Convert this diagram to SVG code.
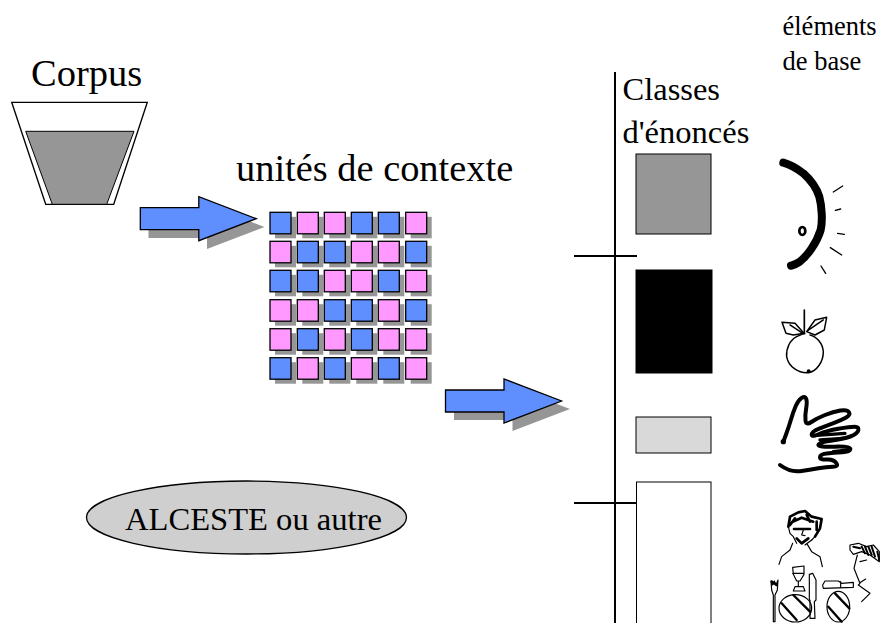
<svg xmlns="http://www.w3.org/2000/svg" width="880" height="623" viewBox="0 0 880 623">
<style>
text{font-family:"Liberation Serif","Times New Roman",serif;fill:#000}
.b{fill:#5f8fff;stroke:#000;stroke-width:1.3}
.p{fill:#ff99ff;stroke:#000;stroke-width:1.3}
.s{fill:#969696}
.l{fill:none;stroke:#000;stroke-linecap:round;stroke-linejoin:round}
</style>
<defs>
<rect id="sh" class="s" width="21" height="21.5"/>
<polygon id="arrow" points="0,11 58.500,11 58.500,0 116,22 58.500,44 58.500,33 0,33"/>
</defs>
<rect width="880" height="623" fill="#fff"/>
<g id="corpus">
<text x="31" y="86" font-size="38.500">Corpus</text>
<polygon points="11.700,102.300 147.300,102.300 113.700,204.300 45.700,204.300" fill="#fff" stroke="#000" stroke-width="1.300"/>
<polygon points="25.700,131.300 134,131.300 106.700,204.300 52.300,204.300" fill="#969696" stroke="#000" stroke-width="1"/>
</g>
<g id="connectors">
<use href="#arrow" x="148.500" y="205" class="s"/>
<use href="#arrow" x="140.300" y="196.700" class="b"/>
<use href="#arrow" x="454" y="387" class="s"/>
<use href="#arrow" x="445.500" y="379" class="b"/>
<line x1="615" y1="72" x2="615" y2="623" stroke="#000" stroke-width="2"/>
<line x1="574" y1="256" x2="637" y2="256" stroke="#000" stroke-width="2"/>
<line x1="574" y1="503" x2="637" y2="503" stroke="#000" stroke-width="2"/>
</g>
<g id="unites">
<text x="236" y="181" font-size="38.400">unités de contexte</text>
<g transform="translate(5 4.500)">
<use href="#sh" x="270" y="212.300"/><use href="#sh" x="297.300" y="212.300"/><use href="#sh" x="324.300" y="212.300"/><use href="#sh" x="351.300" y="212.300"/><use href="#sh" x="378.300" y="212.300"/><use href="#sh" x="405.700" y="212.300"/>
<use href="#sh" x="270" y="241.300"/><use href="#sh" x="297.300" y="241.300"/><use href="#sh" x="324.300" y="241.300"/><use href="#sh" x="351.300" y="241.300"/><use href="#sh" x="378.300" y="241.300"/><use href="#sh" x="405.700" y="241.300"/>
<use href="#sh" x="270" y="270.300"/><use href="#sh" x="297.300" y="270.300"/><use href="#sh" x="324.300" y="270.300"/><use href="#sh" x="351.300" y="270.300"/><use href="#sh" x="378.300" y="270.300"/><use href="#sh" x="405.700" y="270.300"/>
<use href="#sh" x="270" y="299.700"/><use href="#sh" x="297.300" y="299.700"/><use href="#sh" x="324.300" y="299.700"/><use href="#sh" x="351.300" y="299.700"/><use href="#sh" x="378.300" y="299.700"/><use href="#sh" x="405.700" y="299.700"/>
<use href="#sh" x="270" y="328.700"/><use href="#sh" x="297.300" y="328.700"/><use href="#sh" x="324.300" y="328.700"/><use href="#sh" x="351.300" y="328.700"/><use href="#sh" x="378.300" y="328.700"/><use href="#sh" x="405.700" y="328.700"/>
<use href="#sh" x="270" y="357.700"/><use href="#sh" x="297.300" y="357.700"/><use href="#sh" x="324.300" y="357.700"/><use href="#sh" x="351.300" y="357.700"/><use href="#sh" x="378.300" y="357.700"/><use href="#sh" x="405.700" y="357.700"/>
</g>
<g>
<rect class="b" x="270" y="212.300" width="21" height="21.500"/><rect class="p" x="297.300" y="212.300" width="21" height="21.500"/><rect class="p" x="324.300" y="212.300" width="21" height="21.500"/><rect class="b" x="351.300" y="212.300" width="21" height="21.500"/><rect class="b" x="378.300" y="212.300" width="21" height="21.500"/><rect class="p" x="405.700" y="212.300" width="21" height="21.500"/>
<rect class="p" x="270" y="241.300" width="21" height="21.500"/><rect class="b" x="297.300" y="241.300" width="21" height="21.500"/><rect class="b" x="324.300" y="241.300" width="21" height="21.500"/><rect class="p" x="351.300" y="241.300" width="21" height="21.500"/><rect class="p" x="378.300" y="241.300" width="21" height="21.500"/><rect class="b" x="405.700" y="241.300" width="21" height="21.500"/>
<rect class="b" x="270" y="270.300" width="21" height="21.500"/><rect class="b" x="297.300" y="270.300" width="21" height="21.500"/><rect class="p" x="324.300" y="270.300" width="21" height="21.500"/><rect class="p" x="351.300" y="270.300" width="21" height="21.500"/><rect class="b" x="378.300" y="270.300" width="21" height="21.500"/><rect class="p" x="405.700" y="270.300" width="21" height="21.500"/>
<rect class="p" x="270" y="299.700" width="21" height="21.500"/><rect class="p" x="297.300" y="299.700" width="21" height="21.500"/><rect class="b" x="324.300" y="299.700" width="21" height="21.500"/><rect class="b" x="351.300" y="299.700" width="21" height="21.500"/><rect class="p" x="378.300" y="299.700" width="21" height="21.500"/><rect class="b" x="405.700" y="299.700" width="21" height="21.500"/>
<rect class="p" x="270" y="328.700" width="21" height="21.500"/><rect class="b" x="297.300" y="328.700" width="21" height="21.500"/><rect class="p" x="324.300" y="328.700" width="21" height="21.500"/><rect class="b" x="351.300" y="328.700" width="21" height="21.500"/><rect class="p" x="378.300" y="328.700" width="21" height="21.500"/><rect class="p" x="405.700" y="328.700" width="21" height="21.500"/>
<rect class="b" x="270" y="357.700" width="21" height="21.500"/><rect class="p" x="297.300" y="357.700" width="21" height="21.500"/><rect class="b" x="324.300" y="357.700" width="21" height="21.500"/><rect class="p" x="351.300" y="357.700" width="21" height="21.500"/><rect class="b" x="378.300" y="357.700" width="21" height="21.500"/><rect class="p" x="405.700" y="357.700" width="21" height="21.500"/>
</g>
</g>
<g id="alceste">
<ellipse cx="246.500" cy="517.500" rx="160" ry="36.500" fill="#cfcfcf" stroke="#000" stroke-width="1.300"/>
<text x="125" y="530" font-size="32.600">ALCESTE ou autre</text>
</g>
<g id="classes">
<text x="622.500" y="100" font-size="32.500">Classes</text>
<text x="622.500" y="143" font-size="32.500">d'énoncés</text>
<rect x="636" y="154" width="75" height="80" fill="#969696" stroke="#000"/>
<rect x="636" y="270" width="76" height="103" fill="#000" stroke="#000"/>
<rect x="636" y="417" width="75" height="36" fill="#d9d9d9" stroke="#000"/>
<rect x="636.500" y="482" width="74.500" height="145" fill="#fff" stroke="#000"/>
</g>
<g id="elements">
<text x="782.500" y="35" font-size="26.500">éléments</text>
<text x="782.500" y="70" font-size="26.500">de base</text>
</g>
<g id="sun" transform="translate(760 140) scale(.3333)">
<path class="l" stroke-width="24" d="M70,68C85,72 110,85 130,100C150,118 170,145 178,170C186,200 188,245 182,270C170,310 140,350 118,366C108,373 100,375 93,377"/>
<path class="l" stroke-width="4" d="M220,156L248,138M226,211L242,207M233,280L253,283M211,323L245,345M183,378L197,400"/>
<ellipse cx="127" cy="273" rx="9" ry="12" fill="#fff" stroke="#000" stroke-width="8"/>
</g>
<g id="apple" transform="translate(760 140) scale(.3333)">
<path class="l" stroke-width="4.500" d="M110,590C90,600 78,625 80,650C85,680 115,700 145,698C170,695 190,665 190,635C188,610 170,590 150,585M110,590L132,580"/>
<path class="l" stroke-width="4.500" d="M132,580L105,550L66,547L78,580L100,585ZM90,555L125,578M140,575L165,540L200,532L193,570L165,585ZM143,572L190,540"/>
<path class="l" stroke-width="5" d="M133,510L133,578"/>
<circle cx="146" cy="694" r="6"/>
<circle cx="132" cy="580" r="4"/>
</g>
<g id="hand" transform="translate(770 385) scale(.3333)">
<path class="l" stroke-width="12" d="M40,170L47.500,150Q55,130 62.500,105Q70,80 77.500,62.500Q85,45 95,38.500Q105,32 108.500,41Q112,50 108.500,70Q105,90 106.500,106Q108,122 124,111Q140,100 165,90Q190,80 211,76.500Q232,73 237,81.500Q242,90 228.500,97.500Q215,105 192.500,113.500Q170,122 147.500,131Q125,140 125,148.500Q125,157 147.500,147Q170,137 205,131Q240,125 254,125Q268,125 265,136Q262,147 241,154.500Q220,162 182.500,167Q145,172 145,179.500Q145,187 192.500,185Q240,183 241,191.500Q242,200 216,201.500Q190,203 170,205.500Q150,208 150,216.500Q150,225 170,223.500Q190,222 198.500,233.500Q207,245 188.500,245Q170,245 145,250Q120,255 90,258.500Q60,262 30,240"/>
<path class="l" stroke-width="10" d="M130,152L225,145M150,165L220,160M190,200L235,195"/>
<circle cx="40" cy="170" r="8"/>
</g>
<g id="dinner" transform="translate(770 505) scale(.3333)">
<g class="l" stroke-width="3.500">
<path d="M55,65L60,85L70,95L80,115M125,105L105,120M68,115L60,135L35,155L27,178M112,118L125,140L150,155L157,185"/>
<path d="M100,75L95,90L105,92M135,95L125,105"/>
<path d="M68,187L102,183L102,208L90,228L80,228L70,208ZM68,205L102,205M85,228L85,245M75,245L100,245L105,258L70,258Z"/>
<path d="M118,208L128,205L138,225L138,285L133,290L135,340L120,340L120,285L118,285Z"/>
<path d="M3,228L8,240L13,228L18,240L24,225L22,255L15,270L15,350L10,350L10,270L5,255Z"/>
<ellipse cx="76" cy="310" rx="49" ry="41"/>
<ellipse cx="205" cy="305" rx="34" ry="46"/>
<path d="M158,240L165,228L205,228L215,235L250,232L250,247L160,250ZM212,230L212,248"/>
<path d="M262,150L252,190L262,215L270,235L265,240L300,265L275,290M272,232L287,222M270,170L290,165M240,120L265,115L290,125L310,120L328,140L328,170L300,150L275,140L250,148L240,135Z"/>
</g>
<path class="l" stroke-width="8" d="M55,65L60,35L85,22L105,18L125,35L155,42L150,70L135,95M68,50L95,38L130,50M72,72L120,72M80,100L95,115L115,100M75,40L60,60M110,30L120,50M140,50L140,75M5,230L20,240"/>
<path class="l" stroke-width="7" d="M35,295L80,345M70,270L120,320M175,305L215,350M195,265L238,310"/>
<path class="l" stroke-width="6" d="M250,125L270,130M285,125L295,150M305,125L315,155M322,140L328,165M275,125L285,145M295,125L305,150"/>
</g>
</svg>
